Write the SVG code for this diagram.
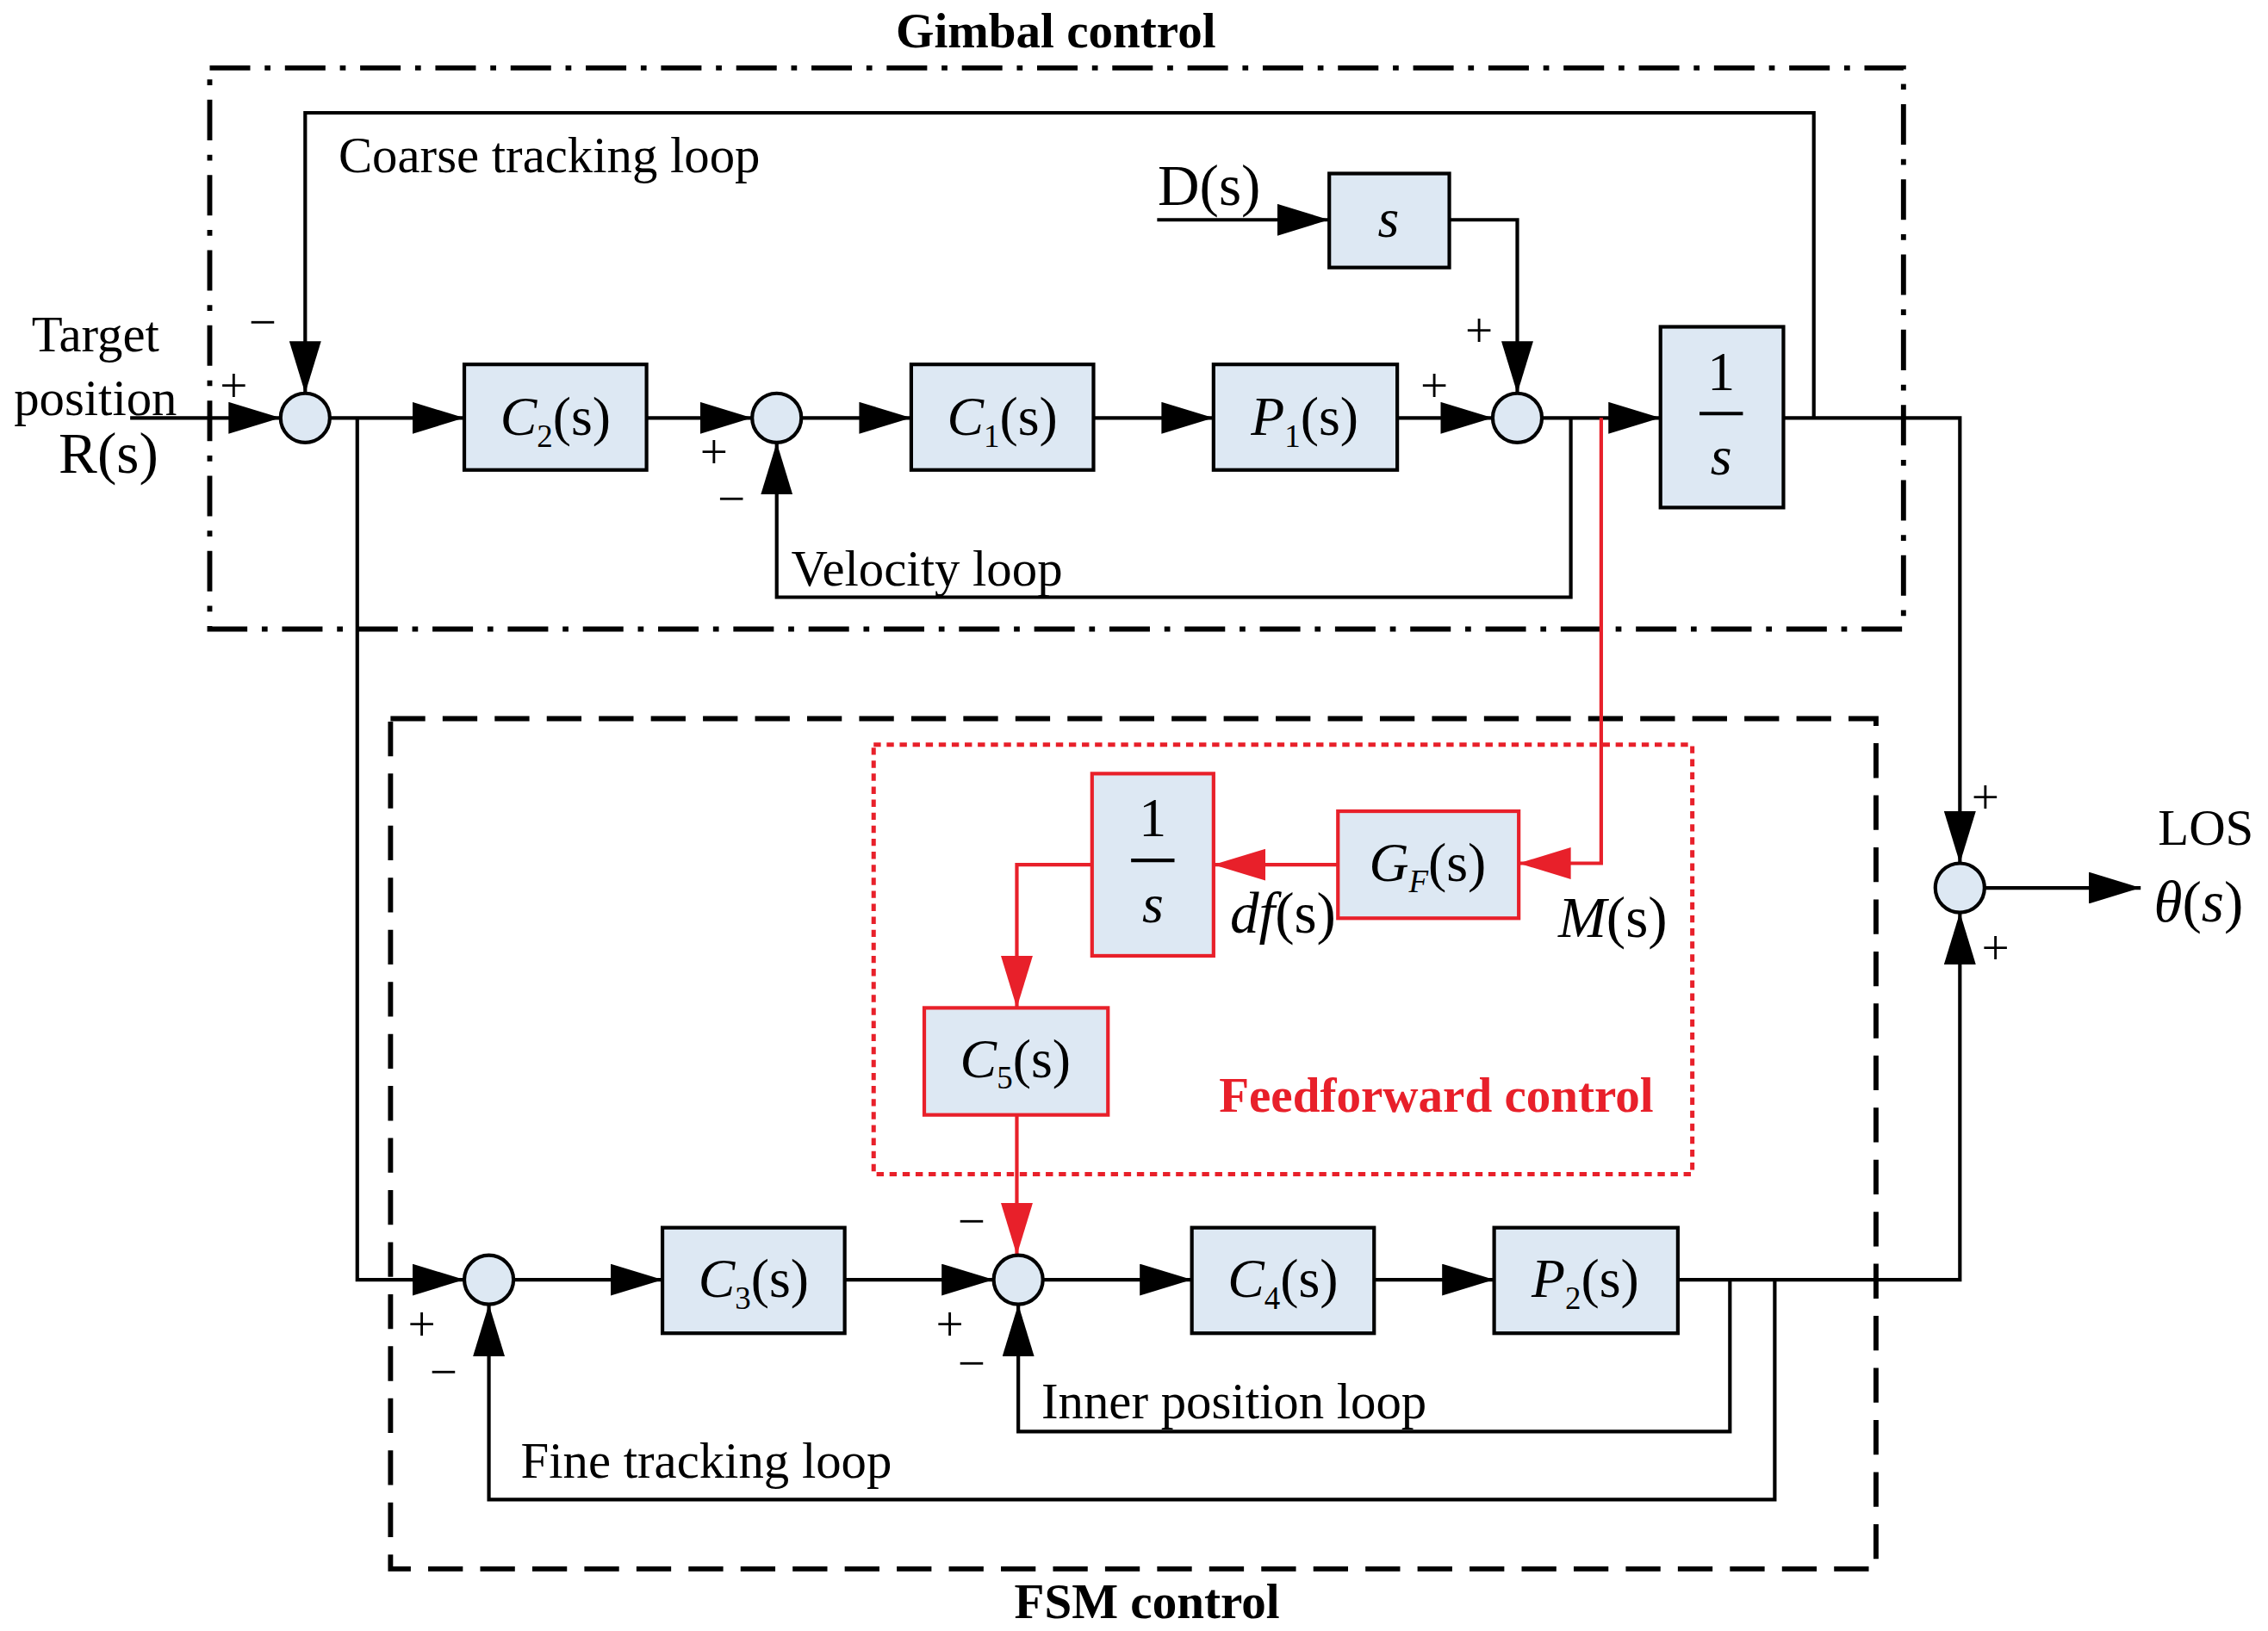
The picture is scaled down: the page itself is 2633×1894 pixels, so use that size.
<svg xmlns="http://www.w3.org/2000/svg" width="2633" height="1894" viewBox="0 0 2633 1894">
<defs>
<style>
.b{fill:#dde8f3;stroke:#000;stroke-width:2.5}
.rb{fill:#dde8f3;stroke:#e8202a;stroke-width:2.5}
.c{fill:#dde8f3;stroke:#000;stroke-width:2.5}
.l{fill:none;stroke:#000;stroke-width:2.5}
.r{fill:none;stroke:#e8202a;stroke-width:2.5}
text{font-family:"Liberation Serif",serif;font-size:35px;fill:#000}
.t{font-size:38px;text-anchor:middle}
.i{font-style:italic}
.s{font-size:22px}
.bold{font-weight:bold;font-size:34px;text-anchor:middle}
.g{font-size:34px}
</style>
<marker id="A" markerWidth="36" markerHeight="22" refX="36" refY="11" orient="auto" markerUnits="userSpaceOnUse"><path d="M0,0L36,11L0,22z" fill="#000"/></marker>
<marker id="AR" markerWidth="36" markerHeight="22" refX="36" refY="11" orient="auto" markerUnits="userSpaceOnUse"><path d="M0,0L36,11L0,22z" fill="#e8202a"/></marker>
</defs>
<rect width="2633" height="1894" fill="#fff"/>
<g transform="scale(1.6792)">
<g id="frames">
<rect x="145" y="47" width="1171" height="388" fill="none" stroke="#000" stroke-width="3.5" stroke-dasharray="28,10,4,10"/>
<rect x="270" y="497" width="1027" height="588" fill="none" stroke="#000" stroke-width="3.5" stroke-dasharray="24,12"/>
<rect x="604" y="515" width="566" height="297" fill="none" stroke="#e8202a" stroke-width="3" stroke-dasharray="5,4"/>
<text x="730" y="33" class="bold">Gimbal control</text>
<text x="793" y="1119" class="bold">FSM control</text>
<text x="993" y="769" class="bold" style="fill:#e8202a">Feedforward control</text>
<text x="234" y="119">Coarse tracking loop</text>
<text x="547" y="405">Velocity loop</text>
<text x="720" y="981">Inner position loop</text>
<text x="360" y="1022">Fine tracking loop</text>
</g>
<g id="connectors">
<path class="l" d="M1254,289V78H211V272" marker-end="url(#A)"/>
<path class="l" d="M90,289H194" marker-end="url(#A)"/>
<path class="l" d="M228,289H321" marker-end="url(#A)"/>
<path class="l" d="M447,289H520" marker-end="url(#A)"/>
<path class="l" d="M554,289H630" marker-end="url(#A)"/>
<path class="l" d="M756,289H839" marker-end="url(#A)"/>
<path class="l" d="M966,289H1032" marker-end="url(#A)"/>
<path class="l" d="M800,152H919" marker-end="url(#A)"/>
<path class="l" d="M1002,152H1049V272" marker-end="url(#A)"/>
<path class="l" d="M1066,289H1148" marker-end="url(#A)"/>
<path class="l" d="M1086,289V413H537V306" marker-end="url(#A)"/>
<path class="l" d="M1233,289H1355V597" marker-end="url(#A)"/>
<path class="l" d="M1372,614H1480" marker-end="url(#A)"/>
<path class="l" d="M247,289V885H321" marker-end="url(#A)"/>
<path class="l" d="M355,885H458" marker-end="url(#A)"/>
<path class="l" d="M584,885H687" marker-end="url(#A)"/>
<path class="l" d="M721,885H824" marker-end="url(#A)"/>
<path class="l" d="M950,885H1033" marker-end="url(#A)"/>
<path class="l" d="M1160,885H1355V631" marker-end="url(#A)"/>
<path class="l" d="M1196,885V990H704V902" marker-end="url(#A)"/>
<path class="l" d="M1227,885V1037H338V902" marker-end="url(#A)"/>
<path class="r" d="M1107,289V597H1050" marker-end="url(#AR)"/>
<path class="r" d="M925,598H839" marker-end="url(#AR)"/>
<path class="r" d="M755,598H703V697" marker-end="url(#AR)"/>
<path class="r" d="M703,771V868" marker-end="url(#AR)"/>
</g>
<g id="signs">
<text x="152" y="278" class="g">+</text><text x="172" y="234" class="g">−</text>
<text x="484" y="324" class="g">+</text><text x="496" y="356" class="g">−</text>
<text x="982" y="278" class="g">+</text><text x="1013" y="240" class="g">+</text>
<text x="1363" y="563" class="g">+</text><text x="1370" y="667" class="g">+</text>
<text x="282" y="927" class="g">+</text><text x="297" y="960" class="g">−</text>
<text x="647" y="927" class="g">+</text><text x="662" y="954" class="g">−</text><text x="662" y="856" class="g">−</text>
<text x="66" y="243" text-anchor="middle">Target</text>
<text x="66" y="287" text-anchor="middle">position</text>
<text x="75" y="327" text-anchor="middle" style="font-size:40px">R(s)</text>
<text x="836" y="142" text-anchor="middle" style="font-size:40px">D(s)</text>
<text x="1525" y="584" text-anchor="middle">LOS</text>
<text x="1520" y="637" text-anchor="middle" style="font-size:40px"><tspan class="i">θ</tspan>(<tspan class="i">s</tspan>)</text>
<text x="887" y="645" text-anchor="middle" style="font-size:40px"><tspan class="i">df</tspan>(s)</text>
<text x="1115" y="648" text-anchor="middle" style="font-size:40px"><tspan class="i">M</tspan>(s)</text>
</g>
<g id="sum1"><circle class="c" cx="211" cy="289" r="17"/></g>
<g id="sum2"><circle class="c" cx="537" cy="289" r="17"/></g>
<g id="sum3"><circle class="c" cx="1049" cy="289" r="17"/></g>
<g id="sum4"><circle class="c" cx="1355" cy="614" r="17"/></g>
<g id="sum5"><circle class="c" cx="338" cy="885" r="17"/></g>
<g id="sum6"><circle class="c" cx="704" cy="885" r="17"/></g>
<g id="C2"><rect class="b" x="321" y="252" width="126" height="73"/><text x="384" y="301" class="t"><tspan class="i">C</tspan><tspan class="s" dy="8">2</tspan><tspan dy="-8">(s)</tspan></text></g>
<g id="C1"><rect class="b" x="630" y="252" width="126" height="73"/><text x="693" y="301" class="t"><tspan class="i">C</tspan><tspan class="s" dy="8">1</tspan><tspan dy="-8">(s)</tspan></text></g>
<g id="P1"><rect class="b" x="839" y="252" width="127" height="73"/><text x="902" y="301" class="t"><tspan class="i">P</tspan><tspan class="s" dy="8">1</tspan><tspan dy="-8">(s)</tspan></text></g>
<g id="S"><rect class="b" x="919" y="120" width="83" height="65"/><text x="960" y="164" class="t i">s</text></g>
<g id="Int1"><rect class="b" x="1148" y="226" width="85" height="125"/><text x="1190" y="270" class="t">1</text><line x1="1175" y1="286" x2="1205" y2="286" class="l"/><text x="1190" y="328" class="t i">s</text></g>
<g id="GF"><rect class="rb" x="925" y="561" width="125" height="74"/><text x="987" y="609" class="t"><tspan class="i">G</tspan><tspan class="s i" dy="8">F</tspan><tspan dy="-8">(s)</tspan></text></g>
<g id="Int2"><rect class="rb" x="755" y="535" width="84" height="126"/><text x="797" y="578" class="t">1</text><line x1="782" y1="595" x2="812" y2="595" class="l"/><text x="797" y="638" class="t i">s</text></g>
<g id="C5"><rect class="rb" x="639" y="697" width="127" height="74"/><text x="702" y="745" class="t"><tspan class="i">C</tspan><tspan class="s" dy="8">5</tspan><tspan dy="-8">(s)</tspan></text></g>
<g id="C3"><rect class="b" x="458" y="849" width="126" height="73"/><text x="521" y="897" class="t"><tspan class="i">C</tspan><tspan class="s" dy="8">3</tspan><tspan dy="-8">(s)</tspan></text></g>
<g id="C4"><rect class="b" x="824" y="849" width="126" height="73"/><text x="887" y="897" class="t"><tspan class="i">C</tspan><tspan class="s" dy="8">4</tspan><tspan dy="-8">(s)</tspan></text></g>
<g id="P2"><rect class="b" x="1033" y="849" width="127" height="73"/><text x="1096" y="897" class="t"><tspan class="i">P</tspan><tspan class="s" dy="8">2</tspan><tspan dy="-8">(s)</tspan></text></g>
</g>
</svg>
